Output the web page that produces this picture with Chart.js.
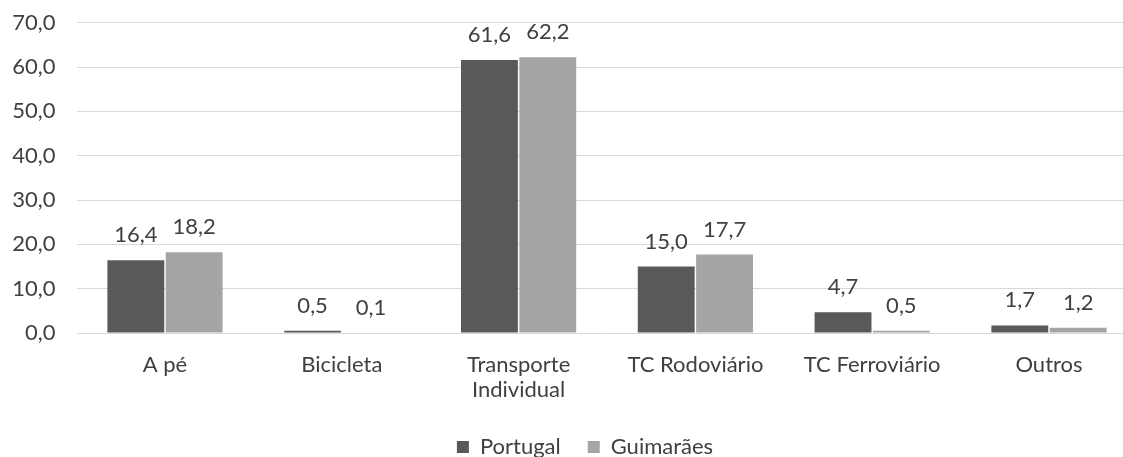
<!DOCTYPE html>
<html>
<head>
<meta charset="utf-8">
<script src="https://cdn.jsdelivr.net/npm/chart.js@4.4.0/dist/chart.umd.min.js"></script>
<style>
  html, body { margin: 0; padding: 0; background: #ffffff; overflow: hidden; }
  #wrap { width: 1123px; height: 457px; overflow: hidden; }
  canvas { display: block; }
</style>
</head>
<body>
<div id="wrap"><canvas id="chart" width="1170" height="468"></canvas></div>
<script>
// Repartição modal das deslocações (%)
const categories = ['A pé', 'Bicicleta', ['Transporte', 'Individual'], 'TC Rodoviário', 'TC Ferroviário', 'Outros'];
const portugal = [16.4, 0.5, 61.6, 15.0, 4.7, 1.7];
const guimaraes = [18.2, 0.1, 62.2, 17.7, 0.5, 1.2];
const seriesNames = ['Portugal', 'Guimarães'];
const yTicks = [0, 10, 20, 30, 40, 50, 60, 70];

const FONT = 'Lato';
const SIZE = 22;
const TEXT = '#404040';
const fmt = v => v.toFixed(1).replace('.', ',');

// Value labels above each bar
const barValues = {
  id: 'barValues',
  afterDatasetsDraw(chart) {
    const ctx = chart.ctx;
    ctx.save();
    ctx.font = SIZE + 'px ' + FONT;
    ctx.fillStyle = TEXT;
    ctx.textAlign = 'center';
    ctx.textBaseline = 'alphabetic';
    chart.data.datasets.forEach((ds, i) => {
      chart.getDatasetMeta(i).data.forEach((bar, j) => {
        ctx.fillText(fmt(ds.data[j]), bar.x, bar.y - 18);
      });
    });
    ctx.restore();
  }
};

new Chart(document.getElementById('chart'), {
  type: 'bar',
  data: {
    labels: categories,
    datasets: [
      { label: seriesNames[0], data: portugal, backgroundColor: '#595959' },
      { label: seriesNames[1], data: guimaraes, backgroundColor: '#a5a5a5' }
    ]
  },
  options: {
    responsive: false,
    animation: false,
    devicePixelRatio: 1,
    datasets: { bar: { categoryPercentage: 0.66, barPercentage: 0.975 } },
    layout: { padding: { left: 0, right: 0, top: 22.7, bottom: 0 } },
    plugins: {
      legend: {
        position: 'bottom',
        labels: {
          font: { family: FONT, size: SIZE },
          color: TEXT,
          boxWidth: 12,
          boxHeight: 12,
          padding: 27
        }
      },
      tooltip: { enabled: false }
    },
    scales: {
      x: {
        afterFit(scale) { scale.height = 76; },
        grid: { display: false },
        border: { display: false },
        ticks: {
          font: { family: FONT, size: SIZE, lineHeight: 1.15 },
          color: TEXT,
          padding: 11,
          maxRotation: 0,
          autoSkip: false
        }
      },
      y: {
        min: 0,
        max: 70,
        afterFit(scale) {
          scale.width = 76.6;
          scale.paddingTop = 0;
          scale.paddingBottom = 0;
        },
        afterBuildTicks(scale) { scale.ticks = yTicks.map(v => ({ value: v })); },
        grid: { color: '#d9d9d9', lineWidth: 1, drawTicks: false },
        border: { display: false },
        ticks: {
          font: { family: FONT, size: SIZE },
          color: TEXT,
          padding: 21,
          callback: v => fmt(v)
        }
      },
      // empty right-hand spacer axis
      y2: {
        position: 'right',
        afterFit(scale) {
          scale.width = 32.6;
          scale.paddingTop = 0;
          scale.paddingBottom = 0;
        },
        grid: { display: false },
        border: { display: false },
        ticks: { display: false }
      }
    }
  },
  plugins: [barValues]
});
</script>
</body>
</html>
